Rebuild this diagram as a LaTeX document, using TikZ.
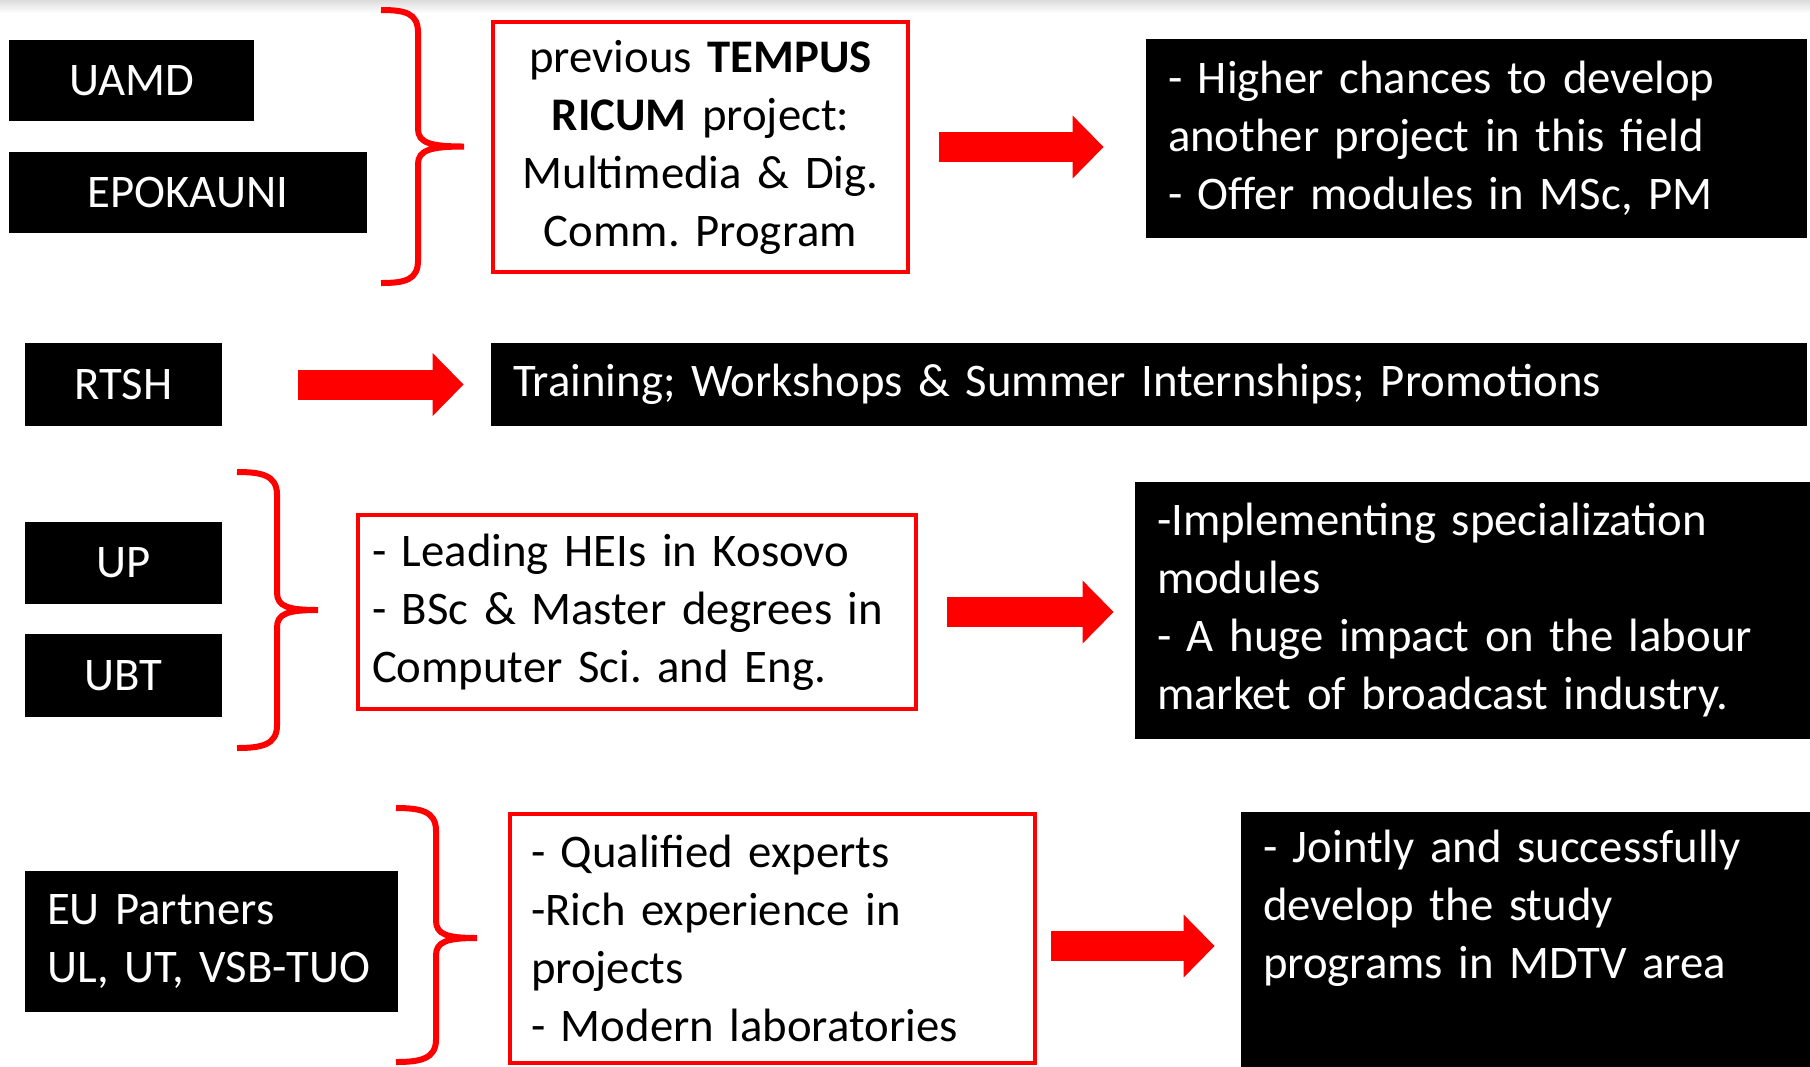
\documentclass[tikz,border=0pt]{standalone}
\usepackage{fontspec}
\setmainfont{Carlito}
\frenchspacing
\usetikzlibrary{arrows.meta}

\begin{document}
\begin{tikzpicture}[
  every node/.style={font=\fontsize{26.6}{33}\selectfont},
  namebox/.style={fill=black,text=white,inner sep=0pt},
  blackbox/.style={fill=black,text=white,inner xsep=0.44cm,inner ysep=0pt,align=left},
  redbox/.style={draw=red,line width=0.08cm,inner xsep=0.42cm,inner ysep=0pt},
  bigarrow/.style={draw=red,line width=0.6cm,-{Triangle[length=0.62cm,width=1.22cm]}},
  bracepath/.style={draw=red,line width=0.12cm}
]
\useasboundingbox (0,0) rectangle (36.2,-21.32);
\fill[white] (0,0) rectangle (36.2,-21.32);
\shade[top color=black!14,bottom color=white] (0,0) rectangle (36.2,-0.26);

% first group
\node[namebox,minimum width=4.90cm,minimum height=1.62cm] (uamd) at (2.63,-1.61) {UAMD};
\node[namebox,minimum width=7.16cm,minimum height=1.62cm] (epoka) at (3.76,-3.85) {EPOKAUNI};
\draw[bracepath] (7.62,-0.20) .. controls (8.10,-0.20) and (8.36,-0.26) .. (8.36,-0.65)
  -- (8.36,-2.58) .. controls (8.36,-2.86) and (8.62,-2.93) .. (9.28,-2.93)
  .. controls (8.62,-2.93) and (8.36,-3.00) .. (8.36,-3.28)
  -- (8.36,-5.21) .. controls (8.36,-5.60) and (8.10,-5.66) .. (7.62,-5.66);
\node[redbox,text width=7.46cm,align=center,minimum height=5.00cm] (prev) at (14.01,-2.94)
  {previous \textbf{TEMPUS}\\ \textbf{RICUM} project:\\ Multimedia \& Dig.\\ Comm. Program};
\node[blackbox,text width=12.34cm,minimum height=3.98cm] (chances) at (29.53,-2.77)
  {- Higher chances to develop\\ another project in this field\\ - Offer modules in MSc, PM};
\draw[bigarrow] ([xshift=0.58cm]prev.east) -- ([xshift=-0.84cm]chances.west |- prev.east);

% RTSH
\node[namebox,minimum width=3.94cm,minimum height=1.66cm] (rtsh) at (2.47,-7.69) {RTSH};
\node[blackbox,text width=25.44cm,minimum height=1.66cm] (training) at (22.98,-7.69)
  {Training; Workshops \& Summer Internships; Promotions};
\draw[bigarrow] ([xshift=1.52cm]rtsh.east) -- ([xshift=-0.54cm]training.west);

% Kosovo group
\node[namebox,minimum width=3.94cm,minimum height=1.64cm] (up) at (2.47,-11.26) {UP};
\node[namebox,minimum width=3.94cm,minimum height=1.66cm] (ubt) at (2.47,-13.51) {UBT};
\draw[bracepath] (4.74,-9.44) .. controls (5.22,-9.44) and (5.54,-9.50) .. (5.54,-9.89)
  -- (5.54,-11.85) .. controls (5.54,-12.13) and (5.76,-12.20) .. (6.36,-12.20)
  .. controls (5.76,-12.20) and (5.54,-12.27) .. (5.54,-12.55)
  -- (5.54,-14.51) .. controls (5.54,-14.90) and (5.22,-14.96) .. (4.74,-14.96);
\node[redbox,inner xsep=0.28cm,text width=10.60cm,align=left,minimum height=3.88cm] (leading) at (12.74,-12.24)
  {- Leading HEIs in Kosovo\\ - BSc \& Master degrees in\\ Computer Sci. and Eng.};
\node[blackbox,text width=12.72cm,minimum height=5.14cm] (impact) at (29.50,-12.21)
  {-Implementing specialization\\ modules\\ - A huge impact on the labour\\ market of broadcast industry.};
\draw[bigarrow] ([xshift=0.58cm]leading.east) -- ([xshift=-0.42cm]impact.west |- leading.east);

% EU partners
\node[blackbox,text width=6.58cm,minimum height=2.82cm] (eu) at (4.23,-18.83)
  {EU Partners\\ UL, UT, VSB-TUO};
\draw[bracepath] (7.92,-16.16) .. controls (8.40,-16.16) and (8.72,-16.22) .. (8.72,-16.61)
  -- (8.72,-18.41) .. controls (8.72,-18.69) and (8.94,-18.76) .. (9.54,-18.76)
  .. controls (8.94,-18.76) and (8.72,-18.83) .. (8.72,-19.11)
  -- (8.72,-20.79) .. controls (8.72,-21.18) and (8.40,-21.24) .. (7.92,-21.24);
\node[redbox,text width=9.66cm,align=left,minimum height=4.98cm] (experts) at (15.45,-18.77)
  {- Qualified experts\\ -Rich experience in\\ projects\\ - Modern laboratories};
\node[blackbox,text width=10.60cm,minimum height=5.20cm] (jointly) at (30.56,-18.84)
  {- Jointly and successfully\\ develop the study\\ programs in MDTV area\\ \strut};
\draw[bigarrow] ([xshift=0.28cm,yshift=-0.15cm]experts.east) -- ([xshift=-0.52cm,yshift=-0.08cm]jointly.west);
\end{tikzpicture}
\end{document}
